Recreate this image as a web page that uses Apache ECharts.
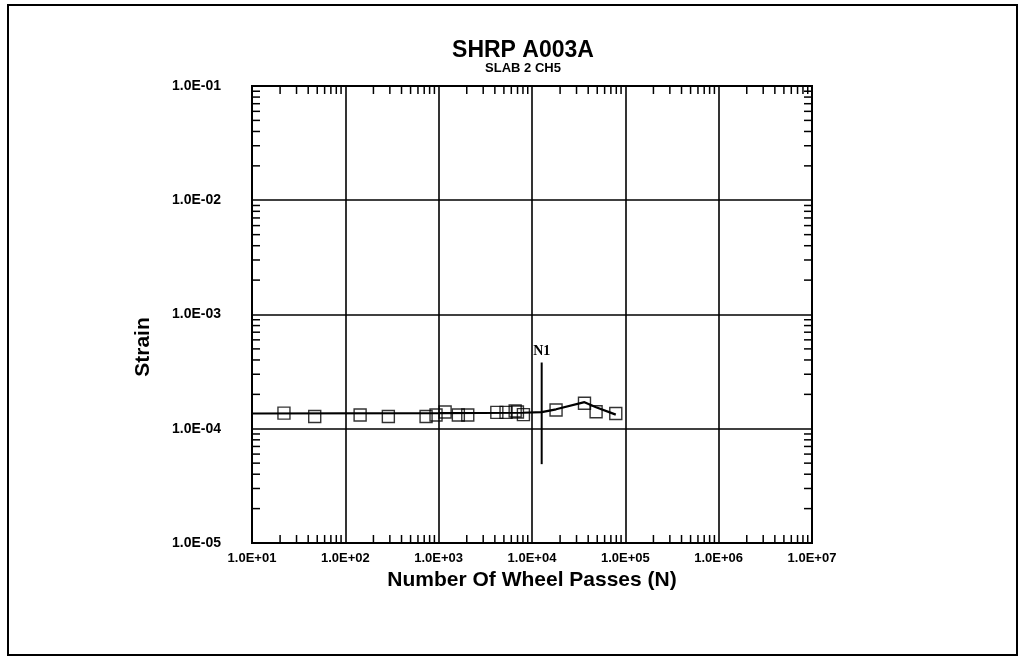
<!DOCTYPE html>
<html>
<head>
<meta charset="utf-8">
<script src="https://cdn.jsdelivr.net/npm/echarts@6/dist/echarts.min.js"></script>
<style>
  html, body { margin: 0; padding: 0; background: #fff; }
  #chart { width: 1019px; height: 657px; }
</style>
</head>
<body>
<div id="chart"></div>
<script>
// Strain gauge readings vs. number of wheel passes (log-log)
const passes = [22, 47, 144, 289, 733, 937, 1172, 1625, 2050, 4200, 5270, 6600, 6980, 8090, 18100, 36500, 48600, 79000];
const strain = [1.37e-4, 1.28e-4, 1.32e-4, 1.28e-4, 1.28e-4, 1.32e-4, 1.40e-4, 1.32e-4, 1.32e-4, 1.39e-4, 1.39e-4, 1.43e-4, 1.40e-4, 1.33e-4, 1.46e-4, 1.67e-4, 1.41e-4, 1.36e-4];

// Fitted trend through the readings
const fitPasses = [10, 1000, 8000, 12700, 18100, 36500, 48600, 79000];
const fitStrain = [1.36e-4, 1.37e-4, 1.38e-4, 1.40e-4, 1.48e-4, 1.71e-4, 1.54e-4, 1.33e-4];

// N1 marker
const n1Passes = 12700;
const n1Range = [3.8e-4, 4.9e-5];

const xTickLabels = ['1.0E+01', '1.0E+02', '1.0E+03', '1.0E+04', '1.0E+05', '1.0E+06', '1.0E+07'];
const yTickLabels = ['1.0E-05', '1.0E-04', '1.0E-03', '1.0E-02', '1.0E-01'];

const X_MIN = 10, X_MAX = 1e7, Y_MIN = 1e-5, Y_MAX = 1e-1;
const FONT = '"Liberation Sans", Arial, sans-serif';

// Minor log ticks (2..9 per decade) on all four sides of the frame
const minorTicks = [];
for (let e = 1; e < 7; e++) {
  for (let m = 2; m <= 9; m++) {
    const v = m * Math.pow(10, e);
    minorTicks.push([v, Y_MIN, 0]); // bottom, pointing up
    minorTicks.push([v, Y_MAX, 1]); // top, pointing down
  }
}
for (let e = -5; e < -1; e++) {
  for (let m = 2; m <= 9; m++) {
    const v = m * Math.pow(10, e);
    minorTicks.push([X_MIN, v, 2]); // left, pointing right
    minorTicks.push([X_MAX, v, 3]); // right, pointing left
  }
}
const TICK = 8;

const chart = echarts.init(document.getElementById('chart'), null, { renderer: 'canvas' });

chart.setOption({
  backgroundColor: '#fff',
  animation: false,
  graphic: [
    { type: 'rect', shape: { x: 8, y: 5, width: 1009, height: 650 },
      style: { fill: 'none', stroke: '#000', lineWidth: 2 }, silent: true },
    { type: 'text', x: 523, y: 51,
      style: { text: 'SHRP A003A', font: 'bold 23px ' + FONT, fill: '#000',
               textAlign: 'center', textVerticalAlign: 'middle' } },
    { type: 'text', x: 523, y: 68,
      style: { text: 'SLAB 2 CH5', font: 'bold 13px ' + FONT, fill: '#000',
               textAlign: 'center', textVerticalAlign: 'middle' } },
    { type: 'text', x: 143, y: 347, rotation: Math.PI / 2,
      style: { text: 'Strain', font: 'bold 21px ' + FONT, fill: '#000',
               textAlign: 'center', textVerticalAlign: 'middle' } }
  ],
  grid: {
    left: 252, right: 207, top: 86, bottom: 114,
    show: true, borderColor: '#000', borderWidth: 2, backgroundColor: 'transparent'
  },
  xAxis: {
    type: 'log', logBase: 10, min: X_MIN, max: X_MAX,
    name: 'Number Of Wheel Passes (N)', nameLocation: 'middle', nameGap: 27,
    nameTextStyle: { fontFamily: FONT, fontWeight: 'bold', fontSize: 21, color: '#000' },
    axisLine: { show: true, lineStyle: { color: '#000', width: 2 } },
    axisTick: { show: false },
    splitLine: { show: true, lineStyle: { color: '#000', width: 1.6 } },
    axisLabel: {
      margin: 9, color: '#000', fontFamily: FONT, fontWeight: 'bold', fontSize: 13,
      formatter: v => xTickLabels[Math.round(Math.log10(v)) - 1] || ''
    }
  },
  yAxis: {
    type: 'log', logBase: 10, min: Y_MIN, max: Y_MAX,
    axisLine: { show: true, lineStyle: { color: '#000', width: 2 } },
    axisTick: { show: false },
    splitLine: { show: true, lineStyle: { color: '#000', width: 1.6 } },
    axisLabel: {
      margin: 31, color: '#000', fontFamily: FONT, fontWeight: 'bold', fontSize: 14,
      formatter: v => yTickLabels[Math.round(Math.log10(v)) + 5] || ''
    }
  },
  series: [
    {
      type: 'custom',
      silent: true,
      clip: false,
      data: minorTicks,
      renderItem: function (params, api) {
        const p = api.coord([api.value(0), api.value(1)]);
        const dir = api.value(2);
        let x2 = p[0], y2 = p[1];
        if (dir === 0) y2 -= TICK;
        else if (dir === 1) y2 += TICK;
        else if (dir === 2) x2 += TICK;
        else x2 -= TICK;
        return {
          type: 'line',
          shape: { x1: p[0], y1: p[1], x2: x2, y2: y2 },
          style: { stroke: '#000', lineWidth: 1.5 }
        };
      }
    },
    {
      type: 'line',
      data: fitPasses.map((x, i) => [x, fitStrain[i]]),
      showSymbol: false,
      lineStyle: { color: '#000', width: 2.2 },
      silent: true
    },
    {
      type: 'scatter',
      data: passes.map((x, i) => [x, strain[i]]),
      symbol: 'rect',
      symbolSize: 12,
      itemStyle: { color: 'rgba(0,0,0,0)', borderColor: '#000', borderWidth: 1.4 }
    },
    {
      type: 'line',
      data: [
        { value: [n1Passes, n1Range[0]],
          label: { show: true, position: 'top', distance: 4, formatter: 'N1',
                   fontFamily: '"Liberation Serif", "Times New Roman", serif',
                   fontWeight: 'bold', fontSize: 14, color: '#000' } },
        { value: [n1Passes, n1Range[1]] }
      ],
      showSymbol: true,
      symbolSize: 0,
      lineStyle: { color: '#000', width: 2 },
      silent: true
    }
  ]
});
</script>
</body>
</html>
